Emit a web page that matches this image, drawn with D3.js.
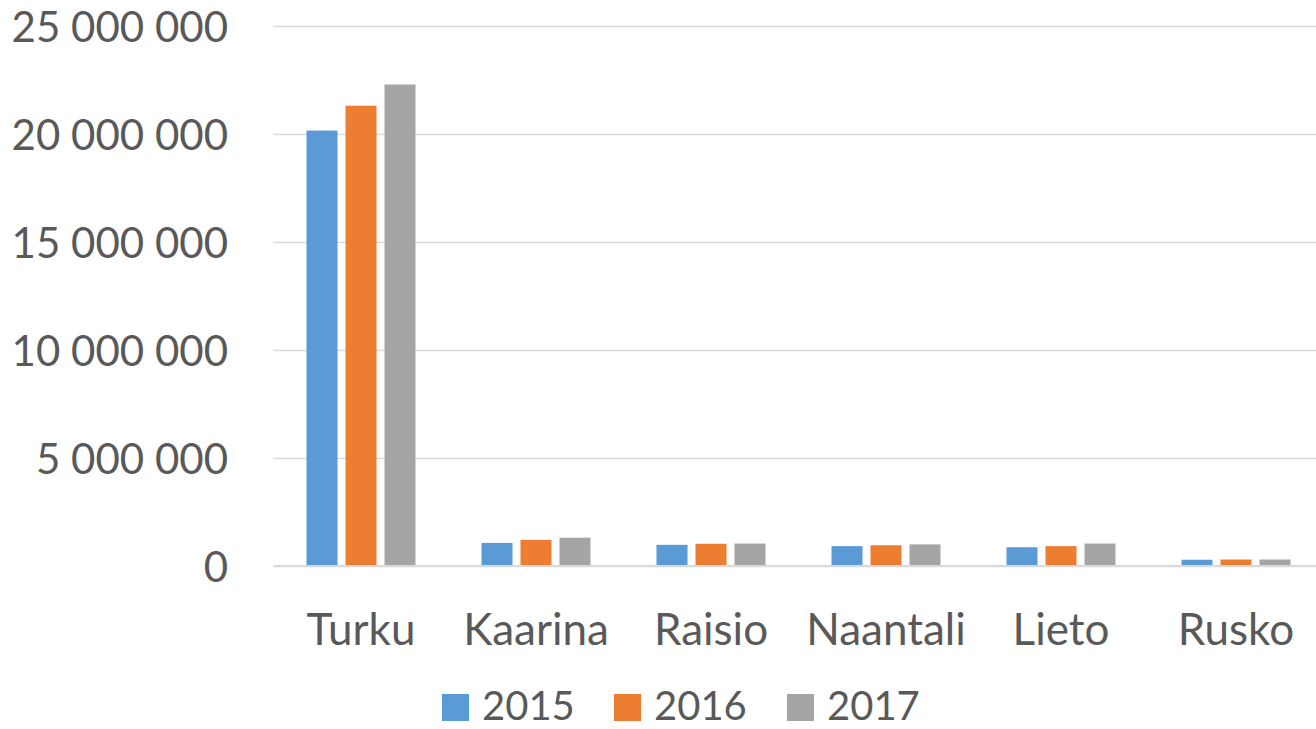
<!DOCTYPE html>
<html>
<head>
<meta charset="utf-8">
<script src="https://cdn.jsdelivr.net/npm/d3@7"></script>
<style>
  body { margin: 0; background: #fff; }
  svg text { font-family: Lato, "Open Sans", sans-serif; fill: #595959; }
</style>
</head>
<body>
<svg width="1316" height="729"></svg>
<script>
// data
const categories = ['Turku', 'Kaarina', 'Raisio', 'Naantali', 'Lieto', 'Rusko'];
const years = ['2015', '2016', '2017'];
const v2015 = [20160000, 1070000, 980000, 920000, 870000, 290000];
const v2016 = [21310000, 1210000, 1030000, 960000, 920000, 300000];
const v2017 = [22290000, 1310000, 1040000, 1000000, 1040000, 300000];
const yTicks = [0, 5000000, 10000000, 15000000, 20000000, 25000000];
const colors = ['#5b9bd5', '#ed7d31', '#a5a5a5'];

const series = [v2015, v2016, v2017];
var svg = d3.select('svg'),
    plotLeft = 273.5,
    plotRight = 1323.5,
    plotTop = 26,
    plotBottom = 566;

var fmt = d3.formatLocale({thousands: ' ', grouping: [3], decimal: ',', currency: ['', '']}).format(',');

var x0 = d3.scaleBand()
    .domain(categories)
    .range([plotLeft, plotRight]);

var x1 = d3.scaleBand()
    .domain(years)
    .range([-54.5, 54.5])
    .paddingInner(8 / 39);

var y = d3.scaleLinear()
    .domain([0, 25000000])
    .range([plotBottom, plotTop]);

// gridlines + y labels
var gy = svg.append('g')
    .attr('transform', 'translate(' + plotLeft + ',0)')
    .call(d3.axisLeft(y).tickValues(yTicks).tickFormat(fmt).tickSize(-(plotRight - plotLeft)).tickPadding(45.5));
gy.select('.domain').remove();
gy.selectAll('line').attr('stroke', '#d9d9d9').attr('stroke-width', 1.5);
gy.selectAll('text').attr('font-size', 42).style('fill', '#595959').attr('dy', '0.36em');

// bars
var groups = svg.append('g').selectAll('g')
    .data(categories)
    .join('g')
    .attr('transform', d => 'translate(' + (x0(d) + x0.bandwidth() / 2) + ',0)');

groups.selectAll('rect')
    .data((d, i) => years.map((yr, j) => ({yr: yr, v: series[j][i], c: colors[j]})))
    .join('rect')
    .attr('x', d => x1(d.yr))
    .attr('width', x1.bandwidth())
    .attr('y', d => y(d.v))
    .attr('height', d => y(0) - y(d.v))
    .attr('fill', d => d.c);

// zero line on top
svg.append('line')
    .attr('x1', plotLeft).attr('x2', plotRight)
    .attr('y1', y(0)).attr('y2', y(0))
    .attr('stroke', '#d9d9d9').attr('stroke-width', 2);

// category labels
var gx = svg.append('g')
    .attr('transform', 'translate(0,' + plotBottom + ')')
    .call(d3.axisBottom(x0).tickSize(0).tickPadding(48));
gx.select('.domain').remove();
gx.selectAll('text').attr('font-size', 44).style('fill', '#595959');

// legend
var legendX = [442, 614, 787];
var legend = svg.append('g').selectAll('g')
    .data(years)
    .join('g')
    .attr('transform', (d, i) => 'translate(' + legendX[i] + ',694)');
legend.append('rect')
    .attr('width', 27).attr('height', 27)
    .attr('fill', (d, i) => colors[i]);
legend.append('text')
    .attr('x', 40).attr('y', 26)
    .attr('font-size', 40)
    .text(d => d);
</script>
</body>
</html>
